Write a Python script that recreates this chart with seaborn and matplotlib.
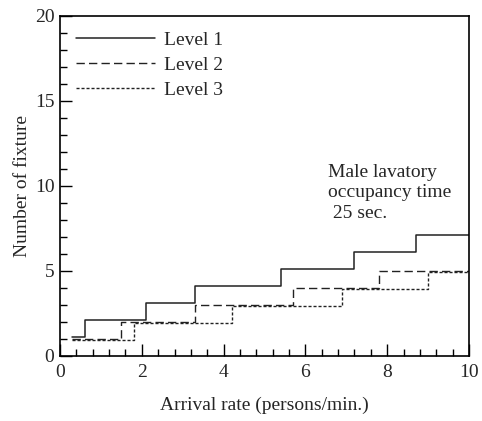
import matplotlib
matplotlib.use("Agg")
import matplotlib.pyplot as plt
from matplotlib.ticker import MultipleLocator
import pandas as pd
import seaborn as sns

# Step points (arrival rate, number of fixtures) for each service level
level1_x = [0.3, 0.6, 2.1, 3.3, 5.4, 7.2, 8.7, 10.0]
level1_y = [1.1, 2.1, 3.1, 4.1, 5.1, 6.1, 7.1, 7.1]
level2_x = [0.3, 1.5, 3.3, 5.7, 7.8, 10.0]
level2_y = [1.0, 2.0, 3.0, 4.0, 5.0, 5.0]
level3_x = [0.3, 1.8, 4.2, 6.9, 9.0, 10.0]
level3_y = [0.9, 1.9, 2.9, 3.9, 4.9, 4.9]
series_names = ["Level 1", "Level 2", "Level 3"]

frames = []
for name, xs, ys in zip(series_names, [level1_x, level2_x, level3_x],
                        [level1_y, level2_y, level3_y]):
    frames.append(pd.DataFrame({"rate": xs, "fixtures": ys, "level": name}))
df = pd.concat(frames, ignore_index=True)

sns.set_style("ticks")
plt.rcParams["font.family"] = ["Liberation Serif", "DejaVu Serif"]
FS = 14
plt.rcParams["font.size"] = FS

fig = plt.figure(figsize=(4.82, 4.21), dpi=100)
ax = fig.add_axes([0.1245, 0.155, 0.8485, 0.808])

styles = {"Level 1": (None, 1.1), "Level 2": ((6, 3), 1.0), "Level 3": ((2.2, 1.4), 1.0)}
for name in series_names:
    sub = df[df["level"] == name]
    dash, lw = styles[name]
    sns.lineplot(data=sub, x="rate", y="fixtures", ax=ax, color="#222222",
                 drawstyle="steps-post", linewidth=lw, label=name,
                 estimator=None, sort=False)
    if dash is not None:
        ax.lines[-1].set_dashes(dash)

ax.set_xlim(0, 10)
ax.set_ylim(0, 20)
ax.xaxis.set_major_locator(MultipleLocator(2))
ax.xaxis.set_minor_locator(MultipleLocator(0.4))
ax.yaxis.set_major_locator(MultipleLocator(5))
ax.yaxis.set_minor_locator(MultipleLocator(1))
ax.tick_params(which="major", direction="in", length=8.5, width=1, labelsize=FS,
               color="black")
ax.tick_params(axis="x", which="major", pad=6)
ax.tick_params(axis="y", which="major", pad=4)
ax.tick_params(which="minor", direction="in", length=4.8, width=1, color="black")
for s in ax.spines.values():
    s.set_visible(True)
    s.set_color("black")
    s.set_linewidth(1.2)

ax.set_xlabel("Arrival rate (persons/min.)", fontsize=FS, labelpad=11)
ax.set_ylabel("Number of fixture", fontsize=FS, labelpad=3)

leg = ax.legend(loc="upper left", frameon=False, fontsize=FS, handlelength=4.1,
                handletextpad=0.45, labelspacing=0.38, bbox_to_anchor=(0.0, 1.0),
                borderaxespad=0.4)

ax.text(0.655, 0.565, "Male lavatory\noccupancy time\n 25 sec.",
        transform=ax.transAxes, fontsize=FS, va="top", ha="left",
        linespacing=1.3)

fig.savefig("out.png", dpi=100, facecolor="white")
